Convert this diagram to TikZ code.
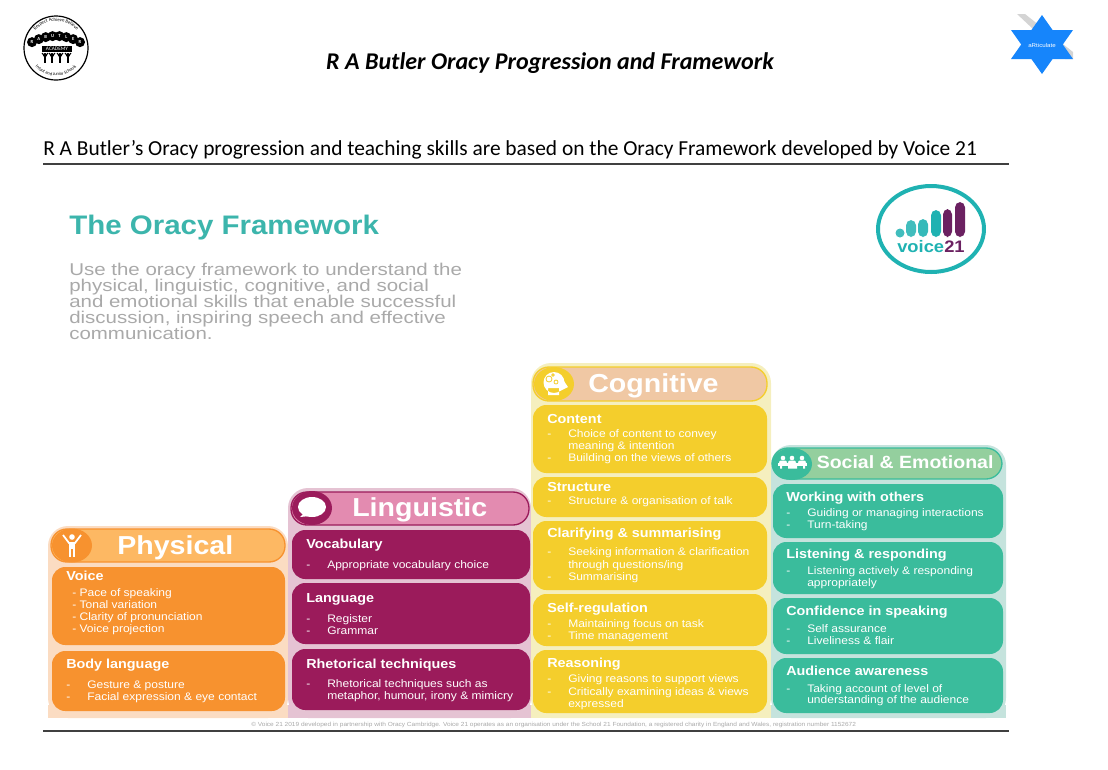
\documentclass[tikz,border=0pt]{standalone}
\usepackage{fontspec}
\usetikzlibrary{decorations.text}
\setmainfont{Carlito}
\newfontfamily\oracyfont[FakeStretch=1.1]{Liberation Sans}
\newfontfamily\introfont[FakeStretch=1.2]{Liberation Sans}

\definecolor{physdark}{HTML}{F7922F}
\definecolor{physpill}{HTML}{FDB863}
\definecolor{physback}{HTML}{FBDCC2}
\definecolor{lingdark}{HTML}{9B1B5B}
\definecolor{lingpill}{HTML}{E38BB0}
\definecolor{lingback}{HTML}{E5C3D3}
\definecolor{cogdark}{HTML}{F4CE2C}
\definecolor{cogpill}{HTML}{F0C8A4}
\definecolor{cogback}{HTML}{F5EFBE}
\definecolor{socdark}{HTML}{3ABC9C}
\definecolor{socpill}{HTML}{94CF9E}
\definecolor{socback}{HTML}{C5E3DD}
\definecolor{oracyteal}{HTML}{3CB5AC}
\definecolor{oracygrey}{HTML}{A9A9A9}
\definecolor{starblue}{HTML}{1685FB}
\definecolor{voiceteal}{HTML}{1FB2B2}
\definecolor{voicepurple}{HTML}{6B2161}

\tikzset{
  cardtitle/.style={anchor=base west,inner sep=0pt,text=white,font=\oracyfont\fontsize{9.8}{10}\selectfont\bfseries},
  carditem/.style={anchor=base west,inner sep=0pt,text=white,font=\oracyfont\fontsize{8.2}{9}\selectfont},
  headtitle/.style={anchor=base west,inner sep=0pt,text=white,font=\oracyfont\fontsize{19.5}{20}\selectfont\bfseries},
  backpanel/.style={rounded corners=15pt},
  headpill/.style={line width=1pt,rounded corners=12pt},
  cardbox/.style={rounded corners=10pt},
  introtext/.style={anchor=base west,inner sep=0pt,text=oracygrey,font=\introfont\fontsize{12.8}{13}\selectfont},
}

\begin{document}
\begin{tikzpicture}[x=0.75pt,y=-0.75pt]
  \useasboundingbox (0,0) rectangle (1108,769);

  % School badge
  \draw[black,line width=0.9pt] (56,48) circle (32);
  \path[decorate,decoration={text along path,text align=center,text={|\fontsize{3.6}{4}\selectfont|Respect Achieve Believe}}]
    (29.4,52.7) arc[start angle=170,end angle=370,radius=27];
  \path[decorate,decoration={text along path,text align=center,text={|\fontsize{3.4}{4}\selectfont|Infant and Junior Schools}}]
    (29.9,57.5) arc[start angle=160,end angle=20,radius=27.8];
  \foreach \i/\letter in {0/R,1/A,2/B,3/U,4/T,5/L,6/E,7/R} {
    \node[circle,fill=black,text=white,inner sep=0pt,minimum size=7.5pt,font=\fontsize{3.5}{4}\selectfont\bfseries]
      (balloon\i) at ({32+6.86*\i},{36+0.5*(\i-3.5)*(\i-3.5)}) {\letter};
  }
  \node[fill=black,text=white,inner sep=0pt,minimum width=22pt,minimum height=4.5pt,font=\fontsize{4}{4}\selectfont] (academy) at (57,49) {ACADEMY};
  \foreach \x in {45,52,60,68} {
    \fill[black] (\x,55) circle (2);
    \draw[black,line width=1.6pt] (\x,55) -- (\x,63);
    \draw[black,line width=0.7pt] (\x-3,53) -- (\x,57) -- (\x+3,53);
  }

  % Star logo
  \fill[black!17] (1017,14) -- (1025,14) -- (1073,52) -- (1073,59) -- (1065,59) -- cycle;
  \fill[starblue] (1042,15) -- (1073,59) -- (1011,59) -- cycle;
  \fill[starblue] (1042,74) -- (1073,30) -- (1011,30) -- cycle;
  \node[text=white,inner sep=0pt,font=\oracyfont\fontsize{4.2}{5}\selectfont] (starname) at (1042,45) {aRticulate};

  % Page headings
  \node[anchor=base,inner sep=0pt,font=\fontsize{18}{20}\selectfont\bfseries\itshape] (pagetitle) at (550,69) {R A Butler Oracy Progression and Framework};
  \node[anchor=base west,inner sep=0pt,font=\fontsize{16.05}{18}\selectfont] (pageintro) at (43,155) {R A Butler’s Oracy progression and teaching skills are based on the Oracy Framework developed by Voice 21};
  \draw[black!75,line width=1.5pt] (43,164) -- (1009,164);
  \draw[black!75,line width=1.5pt] (43,731) -- (1009,731);

  % Framework heading
  \node[anchor=base west,inner sep=0pt,text=oracyteal,font=\oracyfont\fontsize{20.1}{22}\selectfont\bfseries] (frametitle) at (69,234) {The Oracy Framework};
  \node[introtext] (introa) at (69,275) {Use the oracy framework to understand the};
  \node[introtext] (introb) at (69,291) {physical, linguistic, cognitive, and social};
  \node[introtext] (introc) at (69,307) {and emotional skills that enable successful};
  \node[introtext] (introd) at (69,323) {discussion, inspiring speech and effective};
  \node[introtext] (introe) at (69,339) {communication.};

  % Voice 21 logo
  \draw[voiceteal,line width=3pt] (931,229) ellipse [x radius=53,y radius=43];
  \fill[voiceteal!85] (900,233) circle (4.5);
  \fill[voiceteal!85,rounded corners=4pt] (906,220) rectangle (916,237);
  \fill[voiceteal!90,rounded corners=4pt] (918,219) rectangle (928,237);
  \fill[voiceteal,rounded corners=4pt] (931,210) rectangle (941,237);
  \fill[voicepurple,rounded corners=4pt] (943,209) rectangle (952,237);
  \fill[voicepurple,rounded corners=4pt] (955,202) rectangle (965,237);
  \node[anchor=base west,inner sep=0pt,text=voiceteal,font=\oracyfont\fontsize{12.5}{13}\selectfont\bfseries] (voicename) at (897,252) {voice};
  \node[anchor=base west,inner sep=0pt,text=voicepurple,font=\oracyfont\fontsize{12.5}{13}\selectfont\bfseries] (voicenum) at (944,252) {21};

  % Back panels
  \fill[physback,backpanel] (48,718) -- (48,526) -- (288,526) -- (288,718) -- cycle;
  \fill[lingback,backpanel] (288,718) -- (288,488) -- (531,488) -- (531,718) -- cycle;
  \fill[cogback,backpanel] (531,718) -- (531,363) -- (771,363) -- (771,718) -- cycle;
  \fill[socback,backpanel] (771,718) -- (771,445) -- (1006,445) -- (1006,718) -- cycle;
  \fill[physback] (48,705) rectangle (288,718);
  \fill[lingback] (288,705) rectangle (531,718);
  \fill[cogback] (531,705) rectangle (771,718);
  \fill[socback] (771,705) rectangle (1006,718);

  % Header pills
  \draw[physdark,fill=physpill,headpill] (51,529) rectangle (285,562);
  \fill[physdark] (72,545.5) ellipse [x radius=20,y radius=17];
  \draw[lingdark,fill=lingpill,headpill] (291,492) rectangle (529,525);
  \fill[lingdark] (312,508) ellipse [x radius=20,y radius=17];
  \draw[cogdark,fill=cogpill,headpill] (533,367) rectangle (767,401);
  \fill[cogdark] (554,384) ellipse [x radius=20,y radius=17];
  \draw[socdark,fill=socpill,headpill] (772,448) rectangle (1002,479);
  \fill[socdark] (792,464) ellipse [x radius=20,y radius=16];

  % Header icons
  \fill[white] (72,537) circle (2.8);
  \draw[white,line width=1.3pt] (63,535) -- (69,543) -- (75,543) -- (81,535);
  \fill[white] (69,542) rectangle (75,549);
  \draw[white,line width=1.1pt] (70,548) -- (70,557) (74,548) -- (74,557);
  \fill[white] (312,507) ellipse [x radius=14,y radius=10];
  \fill[white] (304,513) -- (300,517) -- (310,516) -- cycle;
  \fill[white] (554,382.5) circle (10.5) (548,388) rectangle (559,395);
  \fill[white] (562,378) -- (568,387) -- (560,391) -- cycle;
  \draw[cogdark,line width=0.6pt] (549,379) circle (3) (556,382) circle (2) (553,375) circle (1.3);
  \foreach \x in {783,792,802} {
    \fill[white] (\x,458) circle (2.3);
    \fill[white,rounded corners=1.5pt] (\x-4,460.5) rectangle (\x+4,464);
  }
  \fill[white] (778,463) rectangle (807,465.5);
  \fill[white] (780,465.5) rectangle (782,468.5) (803,465.5) rectangle (805,468.5) (788,465.5) rectangle (797,468.5);

  % Header titles
  \node[headtitle] (physname) at (117,554) {Physical};
  \node[headtitle] (lingname) at (352,516.5) {Linguistic};
  \node[headtitle] (cogname) at (588,392) {Cognitive};
  \node[headtitle,font=\oracyfont\fontsize{13.3}{14}\selectfont\bfseries] (socname) at (816.5,468.5) {Social \& Emotional};

  % Physical cards
  \fill[physdark,cardbox] (52,567) rectangle (285,645);
  \fill[physdark,cardbox] (52,651) rectangle (285,711);
  \node[cardtitle] (voicehead) at (66,580) {Voice};
  \node[carditem] (voicea) at (72,596) {- Pace of speaking};
  \node[carditem] (voiceb) at (72,608) {- Tonal variation};
  \node[carditem] (voicec) at (72,620.5) {- Clarity of pronunciation};
  \node[carditem] (voiced) at (72,632) {- Voice projection};
  \node[cardtitle] (bodyhead) at (66,668) {Body language};
  \node[carditem] (bodydasha) at (66,688) {-};
  \node[carditem] (bodya) at (87,688) {Gesture \& posture};
  \node[carditem] (bodydashb) at (66,700) {-};
  \node[carditem] (bodyb) at (87,700) {Facial expression \& eye contact};

  % Linguistic cards
  \fill[lingdark,cardbox] (292,530) rectangle (530,579);
  \fill[lingdark,cardbox] (292,583) rectangle (530,644);
  \fill[lingdark,cardbox] (292,649) rectangle (530,710);
  \node[cardtitle] (vocabhead) at (306,548) {Vocabulary};
  \node[carditem] (vocabdash) at (306,568) {-};
  \node[carditem] (vocaba) at (327,568) {Appropriate vocabulary choice};
  \node[cardtitle] (langhead) at (306,602) {Language};
  \node[carditem] (langdasha) at (306,622) {-};
  \node[carditem] (langa) at (327,622) {Register};
  \node[carditem] (langdashb) at (306,634) {-};
  \node[carditem] (langb) at (327,634) {Grammar};
  \node[cardtitle] (rhethead) at (306,668) {Rhetorical techniques};
  \node[carditem] (rhetdash) at (306,687) {-};
  \node[carditem] (rheta) at (327,687) {Rhetorical techniques such as};
  \node[carditem] (rhetb) at (327,699) {metaphor, humour, irony \& mimicry};

  % Cognitive cards
  \fill[cogdark,cardbox] (533,405) rectangle (767,473);
  \fill[cogdark,cardbox] (533,477) rectangle (767,517);
  \fill[cogdark,cardbox] (533,521) rectangle (767,590);
  \fill[cogdark,cardbox] (533,594) rectangle (767,646);
  \fill[cogdark,cardbox] (533,650) rectangle (767,713);
  \node[cardtitle] (conthead) at (547,423) {Content};
  \node[carditem] (contdasha) at (547,437) {-};
  \node[carditem] (conta) at (568,437) {Choice of content to convey};
  \node[carditem] (contb) at (568,449) {meaning \& intention};
  \node[carditem] (contdashb) at (547,461.5) {-};
  \node[carditem] (contc) at (568,461.5) {Building on the views of others};
  \node[cardtitle] (struchead) at (547,491) {Structure};
  \node[carditem] (strucdash) at (547,504) {-};
  \node[carditem] (struca) at (568,504) {Structure \& organisation of talk};
  \node[cardtitle] (clarhead) at (547,537) {Clarifying \& summarising};
  \node[carditem] (clardasha) at (547,555) {-};
  \node[carditem] (clara) at (568,555) {Seeking information \& clarification};
  \node[carditem] (clarb) at (568,568) {through questions/ing};
  \node[carditem] (clardashb) at (547,580) {-};
  \node[carditem] (clarc) at (568,580) {Summarising};
  \node[cardtitle] (selfhead) at (547,612) {Self-regulation};
  \node[carditem] (selfdasha) at (547,627) {-};
  \node[carditem] (selfa) at (568,627) {Maintaining focus on task};
  \node[carditem] (selfdashb) at (547,639) {-};
  \node[carditem] (selfb) at (568,639) {Time management};
  \node[cardtitle] (reashead) at (547,667) {Reasoning};
  \node[carditem] (reasdasha) at (547,682) {-};
  \node[carditem] (reasa) at (568,682) {Giving reasons to support views};
  \node[carditem] (reasdashb) at (547,695) {-};
  \node[carditem] (reasb) at (568,695) {Critically examining ideas \& views};
  \node[carditem] (reasc) at (568,707) {expressed};

  % Social and emotional cards
  \fill[socdark,cardbox] (773,484) rectangle (1003,538);
  \fill[socdark,cardbox] (773,542) rectangle (1003,594);
  \fill[socdark,cardbox] (773,598) rectangle (1003,654);
  \fill[socdark,cardbox] (773,658) rectangle (1003,713);
  \node[cardtitle] (workhead) at (786,501) {Working with others};
  \node[carditem] (workdasha) at (786,516) {-};
  \node[carditem] (worka) at (807,516) {Guiding or managing interactions};
  \node[carditem] (workdashb) at (786,528) {-};
  \node[carditem] (workb) at (807,528) {Turn-taking};
  \node[cardtitle] (listhead) at (786,558) {Listening \& responding};
  \node[carditem] (listdash) at (786,574) {-};
  \node[carditem] (lista) at (807,574) {Listening actively \& responding};
  \node[carditem] (listb) at (807,586) {appropriately};
  \node[cardtitle] (confhead) at (786,615) {Confidence in speaking};
  \node[carditem] (confdasha) at (786,632) {-};
  \node[carditem] (confa) at (807,632) {Self assurance};
  \node[carditem] (confdashb) at (786,644) {-};
  \node[carditem] (confb) at (807,644) {Liveliness \& flair};
  \node[cardtitle] (audhead) at (786,675) {Audience awareness};
  \node[carditem] (auddash) at (786,692) {-};
  \node[carditem] (auda) at (807,692) {Taking account of level of};
  \node[carditem] (audb) at (807,703) {understanding of the audience};

  % Footer
  \node[anchor=base west,inner sep=0pt,text=oracygrey,font=\oracyfont\fontsize{4.45}{5}\selectfont] (footnote) at (251,726) {© Voice 21 2019 developed in partnership with Oracy Cambridge. Voice 21 operates as an organisation under the School 21 Foundation, a registered charity in England and Wales, registration number 1152672};

\end{tikzpicture}
\end{document}
